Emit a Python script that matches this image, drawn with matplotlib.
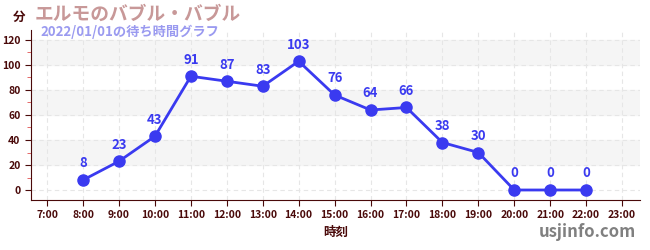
import matplotlib
matplotlib.use("Agg")
import matplotlib.pyplot as plt
from matplotlib.ticker import MultipleLocator

plt.rcParams['font.family'] = ['Noto Sans CJK JP', 'DejaVu Sans']

hours = [8, 9, 10, 11, 12, 13, 14, 15, 16, 17, 18, 19, 20, 21, 22]
waits = [8, 23, 43, 91, 87, 83, 103, 76, 64, 66, 38, 30, 0, 0, 0]
tick_hours = list(range(7, 24))
tick_labels = [f"{h}:00" for h in tick_hours]
yticks = [0, 20, 40, 60, 80, 100, 120]

title = "エルモのバブル・バブル"
subtitle = "2022/01/01の待ち時間グラフ"

dark = "#4a0a0a"
line_c = "#3a3af0"

fig = plt.figure(figsize=(6.5, 2.5), dpi=100)
ax = fig.add_axes([31/650, 50/250, 609/650, 170/250])
ax.set_xlim(6.55, 23.5)
ax.set_ylim(-8, 128)

for lo in (20, 60, 100):
    ax.axhspan(lo, lo + 20, color="#f5f5f5", zorder=0)
ax.grid(True, which="major", axis="both", linestyle=(0, (4, 3)), color="#e6e6e6", linewidth=0.8, zorder=0)

ax.plot(hours, waits, color=line_c, linewidth=2, marker="o", markersize=8, zorder=3)
for h, w in zip(hours, waits):
    ax.annotate(str(w), (h, w), xytext=(0, 7), textcoords="offset points", ha="center", va="bottom",
                fontsize=9.5, fontweight="bold", color=line_c)

ax.set_xticks(tick_hours)
ax.set_xticklabels(tick_labels)
ax.set_yticks(yticks)
ax.yaxis.set_minor_locator(MultipleLocator(10))
ax.tick_params(axis="both", which="major", colors=dark, labelsize=7.5, length=4)
ax.tick_params(axis="y", which="minor", colors="#e05050", length=3)
for lab in ax.get_xticklabels() + ax.get_yticklabels():
    lab.set_fontweight("bold")
    lab.set_color(dark)
for s in ("top", "right"):
    ax.spines[s].set_visible(False)
for s in ("left", "bottom"):
    ax.spines[s].set_color(dark)

ax.set_xlabel("時刻", fontsize=9, fontweight="bold", color=dark, labelpad=4)

fig.text(13/650, 1 - 17/250, "分", fontsize=9, fontweight="bold", color=dark, va="center")
fig.text(35/650, 1 - 14/250, title, fontsize=13.5, fontweight="bold", color="#c89898", va="center")
fig.text(40/650, 1 - 32/250, subtitle, fontsize=9.5, fontweight="bold", color="#9a9af0", va="center")
fig.text(636/650, 1 - 232/250, "usjinfo.com", fontsize=12, fontweight="bold", color="#808080", ha="right", va="center")

fig.savefig("out.png", dpi=100)
